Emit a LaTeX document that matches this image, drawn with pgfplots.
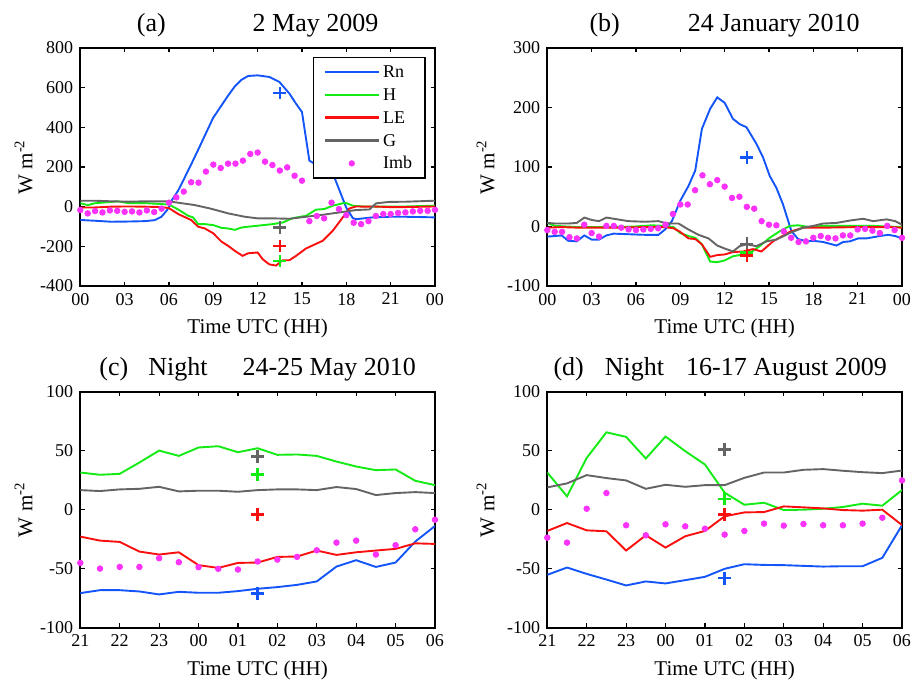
\documentclass[border=0pt]{standalone}
\usepackage{fontspec}
\setmainfont{Liberation Serif}
\usepackage{pgfplots}
\pgfplotsset{compat=1.18}
\definecolor{cRn}{RGB}{20,85,250}
\definecolor{cH}{RGB}{20,235,20}
\definecolor{cLE}{RGB}{250,15,15}
\definecolor{cG}{RGB}{100,100,100}
\definecolor{cImb}{RGB}{250,50,250}
\pgfplotsset{
  panel/.style={
    scale only axis,
    width=177.35pt,
    /pgf/number format/assume math mode=true,
    axis line style={line width=0.9pt},
    every tick/.style={black, line width=0.6pt},
    major tick length=2.2pt,
    tick align=inside,
    tick label style={font=\fontsize{9}{10}\selectfont},
    label style={font=\fontsize{10.5}{12}\selectfont},
    title style={font=\fontsize{13}{15}\selectfont, at={(axis description cs:0.5,1)}, anchor=base, yshift=2.2pt},
    xlabel style={at={(axis description cs:0.5,0)}, anchor=base, yshift=-24pt},
    xlabel={Time UTC (HH)},
    ylabel={W m\textsuperscript{-2}},
  },
  ln/.style={line width=0.95pt, mark=none},
  imb/.style={only marks, mark=*, mark size=1.4pt, cImb, mark options={draw=cImb, fill=cImb}},
  pl/.style={only marks, mark=+, mark size=3.2pt, line width=1.2pt, forget plot},
  day/.style={xmin=0, xmax=24, xtick={0,3,...,24}, xticklabels={00,03,06,09,12,15,18,21,00}, height=119pt},
  night/.style={xmin=0, xmax=9, xtick={0,...,9}, xticklabels={21,22,23,00,01,02,03,04,05,06}, height=118pt,
    ymin=-100, ymax=100, ytick={-100,-50,0,50,100}, yticklabels={-100,-50,0,50,100}},
}
\begin{document}
\begin{tikzpicture}
\useasboundingbox (0,0) rectangle (456pt,340.5pt);
% (a)
\begin{axis}[panel, day, at={(40.15pt,197.5pt)}, anchor=south west,
  ymin=-400, ymax=800, ytick={-400,-200,...,800}, yticklabels={-400,-200,0,200,400,600,800},
  title={(a)\hspace{43.5pt}2 May 2009},
  ylabel style={at={(axis description cs:-0.1353,0.5)}, anchor=base},
  legend style={at={(axis description cs:0.9746,0.9635)}, anchor=north east, draw=black, line width=0.9pt, fill=white,
    font=\fontsize{9}{11}\selectfont, inner xsep=5pt, inner ysep=1.6pt, row sep=0pt,
    cells={anchor=west}, nodes={inner sep=1.5pt, text height=7pt, text depth=1.4pt}},
  legend image code/.code={\draw[#1, line width=1.3pt] (1pt,0pt) -- (28pt,0pt);},
]
\addplot[ln, cRn] coordinates {(0,-67) (0.97,-71) (2.10,-76) (3.23,-75) (4.36,-73) (5.04,-68) (5.49,-51) (5.83,-21) (5.99,-4) (6.17,30) (6.62,81) (7.07,148) (7.52,216) (7.97,286) (8.43,359) (8.99,448) (9.55,510) (10.01,561) (10.46,607) (10.91,640) (11.36,659) (12.0,662) (12.79,654) (13.47,629) (14.15,570) (14.6,519) (15.0,477) (15.5,232) (15.95,212) (16.5,190) (17.15,156) (17.99,-4) (18.44,-58) (18.67,-63) (19.79,-54) (20.92,-51) (22.05,-51) (24,-54)};
\addlegendentry{Rn}
\addplot[ln, cH] coordinates {(0,17) (0.52,8) (0.97,17) (2.10,24) (2.55,27) (3.23,18) (4.36,18) (5.49,13) (5.99,11) (6.62,-14) (7.30,-46) (7.63,-54) (7.97,-88) (8.43,-88) (8.99,-93) (9.55,-107) (10.01,-110) (10.46,-117) (10.91,-105) (11.36,-101) (12.0,-96) (13.02,-88) (13.69,-80) (14.37,-58) (15.27,-46) (15.95,-15) (16.52,-12) (17.08,5) (17.76,17) (17.99,18) (18.44,5) (19.12,1) (20.92,0) (22.05,1) (24,5)};
\addlegendentry{H}
\addplot[ln, cLE] coordinates {(0,-4) (0.97,-4) (2.10,0) (3.23,1) (4.36,0) (5.49,-2) (5.99,-7) (6.62,-37) (7.52,-68) (7.97,-101) (8.43,-110) (8.99,-134) (9.55,-176) (10.01,-198) (10.46,-223) (10.98,-248) (11.36,-235) (12.0,-231) (12.34,-265) (12.79,-291) (13.24,-297) (13.69,-270) (14.15,-270) (14.6,-248) (15.27,-211) (16.4,-172) (17.08,-122) (17.76,-54) (18.21,-9) (18.66,1) (19.34,0) (19.79,1) (20.92,-2) (22.05,-2) (24,1)};
\addlegendentry{LE}
\addplot[ln, cG] coordinates {(0,30) (0.97,30) (2.10,27) (3.23,25) (4.36,27) (5.99,27) (6.62,20) (7.75,8) (8.88,-11) (10.01,-34) (11.14,-51) (12.0,-59) (13.02,-59) (14.15,-61) (15.27,-51) (16.4,-41) (17.53,-29) (18.66,-17) (19.57,-14) (20.02,17) (20.92,24) (22.05,25) (24,30)};
\addlegendentry{G}
\addplot[imb, legend image code/.code={\fill[cImb] (14.5pt,0pt) circle (1.1pt);}] coordinates {(0,-17) (0.5,-34) (1,-22) (1.5,-29) (2,-19) (2.5,-21) (3,-26) (3.5,-24) (4,-29) (4.5,-19) (5,-27) (5.5,-10) (6,20) (6.5,47) (7,76) (7.5,123) (8,121) (8.5,177) (9,212) (9.5,195) (10,217) (10.5,217) (11,232) (11.5,266) (12,273) (12.5,227) (13,210) (13.5,182) (14,198) (14.5,156) (15,131) (15.5,-73) (16,-47) (16.5,-59) (17,20) (17.5,-12) (18,-43) (18.5,-81) (19,-88) (19.5,-73) (20,-47) (20.5,-37) (21,-37) (21.5,-32) (22,-29) (22.5,-24) (23,-21) (23.5,-21) (24,-16)};
\addlegendentry{Imb}
\addplot[pl, cRn] coordinates {(13.5,573)};
\addplot[pl, cG] coordinates {(13.5,-105)};
\addplot[pl, cLE] coordinates {(13.5,-198)};
\addplot[pl, cH] coordinates {(13.5,-274)};
\end{axis}
% (b)
\begin{axis}[panel, day, at={(273.65pt,197.5pt)}, anchor=south west,
  ymin=-100, ymax=300, ytick={-100,0,...,300}, yticklabels={-100,0,100,200,300},
  title={(b)\hspace{34pt}24 January 2010},
  ylabel style={at={(axis description cs:-0.1494,0.5)}, anchor=base},
]
\addplot[ln, cRn] coordinates {(0,-17) (0.52,-16) (0.97,-15) (1.42,-24) (1.99,-25) (2.51,-15) (3.0,-22) (3.5,-22) (4.0,-15) (4.5,-12) (5.49,-13) (6.62,-14) (7.52,-14) (7.97,-5) (8.43,9) (8.99,43) (9.55,68) (10.01,94) (10.46,164) (11.02,198) (11.5,217) (12.0,208) (12.56,181) (13.02,172) (13.47,167) (14.15,139) (14.6,116) (15.05,85) (15.5,65) (15.95,37) (16.52,-8) (16.97,-21) (17.53,-25) (17.99,-24) (18.66,-26) (19.57,-32) (20.02,-26) (20.47,-25) (21.04,-20) (21.6,-20) (22.05,-18) (22.5,-16) (23.07,-14) (23.54,-16) (24,-20)};
\addplot[ln, cH] coordinates {(0,6) (0.52,1) (2.1,-1) (4.36,-1) (5.94,0) (7.07,2) (7.97,1) (8.54,-1) (8.99,-11) (9.55,-16) (10.01,-19) (10.46,-30) (11.02,-59) (11.5,-60) (12.0,-57) (12.56,-50) (13.02,-48) (13.69,-45) (14.37,-33) (15.05,-19) (15.73,-8) (16.4,1) (16.97,2) (17.76,-1) (18.66,1) (20.92,1) (22.05,1) (24,-1)};
\addplot[ln, cLE] coordinates {(0,-2) (0.97,-1) (2.1,-2) (4.36,-2) (6.62,-1) (7.97,-1) (8.54,-3) (8.99,-9) (9.55,-20) (10.01,-21) (10.46,-30) (11.02,-51) (11.5,-48) (12.0,-47) (12.56,-43) (13.24,-42) (13.92,-38) (14.49,-42) (15.27,-25) (16.4,-9) (17.31,-2) (18.66,-2) (20.92,-1) (23.2,-1) (24,-2)};
\addplot[ln, cG] coordinates {(0,6) (0.52,5) (1.42,5) (1.99,6) (2.51,15) (3.0,11) (3.5,9) (4.0,15) (4.5,13) (5.49,9) (6.62,8) (7.52,9) (7.97,6) (8.43,5) (8.88,5) (9.55,-5) (10.23,-14) (10.91,-20) (11.5,-32) (12.0,-37) (12.56,-42) (13.02,-33) (13.47,-30) (14.15,-33) (14.83,-25) (15.5,-22) (16.4,-11) (17.31,-2) (17.99,1) (18.66,5) (19.57,6) (20.47,10) (21.37,13) (22.05,9) (22.96,12) (23.54,9) (24,3)};
\addplot[imb] coordinates {(0,-6) (0.5,-9) (1,-9) (1.5,-18) (2,-20) (2.5,3) (3,-11) (3.5,-17) (4,1) (4.5,1) (5,-2) (5.5,-5) (6,-6) (6.5,-5) (7,-4) (7.5,-3) (8,3) (8.5,21) (9,37) (9.5,37) (10,61) (10.5,86) (11,71) (11.5,78) (12,67) (12.5,48) (13,50) (13.5,33) (14,30) (14.5,9) (15,3) (15.5,2) (16,-8) (16.5,-19) (17,-26) (17.5,-25) (18,-19) (18.5,-16) (19,-19) (19.5,-20) (20,-15) (20.5,-15) (21,-5) (21.5,-4) (22,-7) (22.5,-11) (23,1) (23.5,-6) (24,-19)};
\addplot[pl, cRn] coordinates {(13.5,116)};
\addplot[pl, cH] coordinates {(13.5,-44)};
\addplot[pl, cG] coordinates {(13.5,-29)};
\addplot[pl, cLE] coordinates {(13.5,-49)};
\end{axis}
% (c)
\begin{axis}[panel, night, at={(40.15pt,26.65pt)}, anchor=south west,
  title={(c)\hspace{10pt}Night\hspace{17.5pt}24-25 May 2010},
  ylabel style={at={(axis description cs:-0.1353,0.5)}, anchor=base},
]
\addplot[ln, cRn] coordinates {(0,-70.7) (0.5,-68.2) (1,-68.2) (1.5,-69.3) (2,-71.8) (2.5,-69.6) (3,-70.4) (3.5,-70.4) (4,-69.0) (4.5,-67.0) (5,-65.6) (5.5,-63.7) (6,-60.8) (6.5,-48.2) (7,-42.8) (7.5,-48.5) (8,-44.8) (8.5,-27.0) (9,-13.8)};
\addplot[ln, cH] coordinates {(0,31.5) (0.5,29.6) (1,30.4) (1.5,40) (2,50.1) (2.5,45.6) (3,52.7) (3.5,53.8) (4,48.7) (4.5,52.1) (5,46.5) (5.5,46.8) (6,45.6) (6.5,40.8) (7,36.6) (7.5,33.5) (8,34.1) (8.5,24.5) (9,20.8)};
\addplot[ln, cLE] coordinates {(0,-22.8) (0.5,-26.2) (1,-27.3) (1.5,-35.5) (2,-38.0) (2.5,-36.1) (3,-47.0) (3.5,-49.3) (4,-45.1) (4.5,-44.8) (5,-40.0) (5.5,-39.7) (6,-34.6) (6.5,-38.3) (7,-36.1) (7.5,-34.6) (8,-33.2) (8.5,-28.5) (9,-29.0)};
\addplot[ln, cG] coordinates {(0,16.6) (0.5,15.8) (1,17.2) (1.5,17.7) (2,19.4) (2.5,15.5) (3,16.1) (3.5,16.1) (4,15.2) (4.5,16.6) (5,17.2) (5.5,17.2) (6,16.6) (6.5,19.2) (7,17.5) (7.5,12.4) (8,14.1) (8.5,14.9) (9,14.1)};
\addplot[imb] coordinates {(0,-45.1) (0.5,-49.9) (1,-48.5) (1.5,-48.5) (2,-41.1) (2.5,-44.5) (3,-48.7) (3.5,-50.1) (4,-50.7) (4.5,-43.9) (5,-42.3) (5.5,-40.0) (6,-34.4) (6.5,-27.9) (7,-26.2) (7.5,-38.0) (8,-30.1) (8.5,-16.6) (9,-8.5)};
\addplot[pl, cG] coordinates {(4.5,45.1)};
\addplot[pl, cH] coordinates {(4.5,29.9)};
\addplot[pl, cLE] coordinates {(4.5,-4.2)};
\addplot[pl, cRn] coordinates {(4.5,-71.0)};
\end{axis}
% (d)
\begin{axis}[panel, night, at={(273.65pt,26.65pt)}, anchor=south west,
  title={(d)\hspace{10.5pt}Night\hspace{11pt}16-17 August 2009},
  title style={xshift=-2.2pt},
  ylabel style={at={(axis description cs:-0.1494,0.5)}, anchor=base},
]
\addplot[ln, cRn] coordinates {(0,-55.2) (0.5,-49.0) (1,-54.4) (1.5,-59.2) (2,-64.2) (2.5,-60.8) (3,-62.5) (3.5,-59.7) (4,-56.9) (4.5,-50.1) (5,-46.2) (5.5,-46.8) (6,-47.0) (6.5,-47.6) (7,-48.2) (7.5,-47.9) (8,-47.9) (8.5,-40.8) (9,-13.2)};
\addplot[ln, cH] coordinates {(0,31.5) (0.5,11.3) (1,43.9) (1.5,65.6) (2,61.7) (2.5,43.4) (3,62.0) (3.5,49.6) (4,38.3) (4.5,14.4) (5,4.2) (5.5,5.9) (6,-0.3) (6.5,0) (7,0.8) (7.5,2.3) (8,5.1) (8.5,3.4) (9,16.6)};
\addplot[ln, cLE] coordinates {(0,-18.0) (0.5,-11.3) (1,-17.5) (1.5,-18.3) (2,-34.6) (2.5,-21.7) (3,-32.1) (3.5,-22.5) (4,-18.0) (4.5,-5.6) (5,-2.3) (5.5,-2.0) (6,2.8) (6.5,2.0) (7,1.1) (7.5,-0.3) (8,-0.8) (8.5,0) (9,-13.0)};
\addplot[ln, cG] coordinates {(0,18.9) (0.5,22.3) (1,29.3) (1.5,26.8) (2,24.8) (2.5,17.7) (3,21.1) (3.5,19.4) (4,20.8) (4.5,20.8) (5,27.0) (5.5,31.5) (6,31.5) (6.5,33.8) (7,34.4) (7.5,33.0) (8,31.8) (8.5,31.0) (9,33.2)};
\addplot[imb] coordinates {(0,-23.7) (0.5,-27.9) (1,0.8) (1.5,14.1) (2,-13.2) (2.5,-21.7) (3,-12.4) (3.5,-14.1) (4,-16.1) (4.5,-21.1) (5,-18.0) (5.5,-11.8) (6,-13.5) (6.5,-12.1) (7,-13.2) (7.5,-13.2) (8,-11.8) (8.5,-6.8) (9,24.8)};
\addplot[pl, cG] coordinates {(4.5,51.0)};
\addplot[pl, cH] coordinates {(4.5,9.3)};
\addplot[pl, cLE] coordinates {(4.5,-3.9)};
\addplot[pl, cRn] coordinates {(4.5,-58.0)};
\end{axis}
\end{tikzpicture}
\end{document}
